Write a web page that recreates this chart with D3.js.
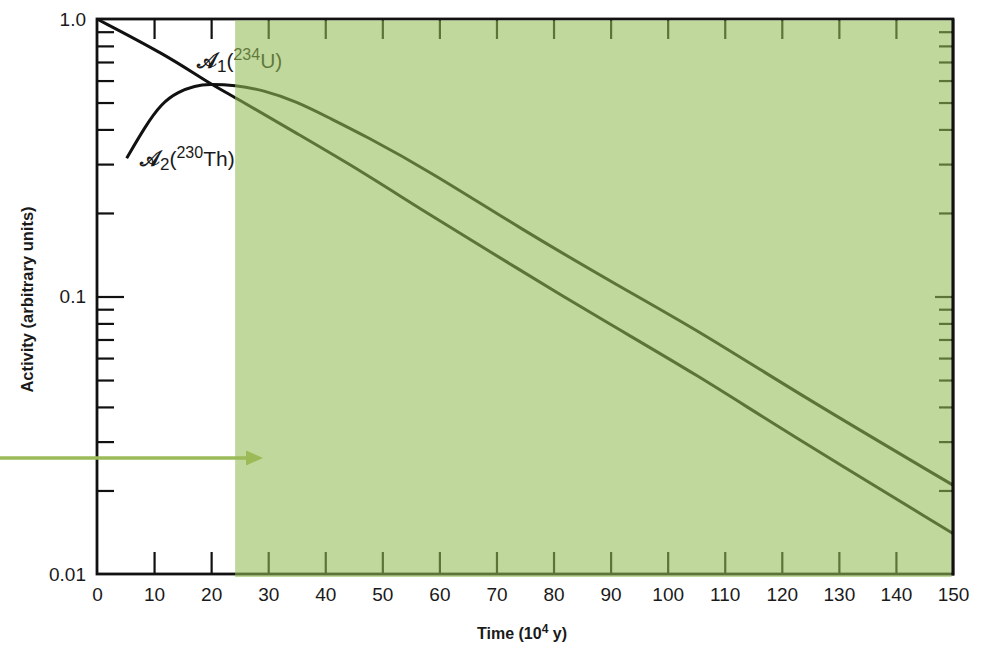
<!DOCTYPE html>
<html>
<head>
<meta charset="utf-8">
<script src="https://cdn.jsdelivr.net/npm/d3@7"></script>
<style>
  html, body { margin: 0; padding: 0; background: #fff; }
  svg { display: block; }
  text { font-family: "Liberation Sans", Arial, sans-serif; fill: #1a1a1a; }
</style>
</head>
<body>
<svg id="chart" width="990" height="645"></svg>
<script>
// ---- data ----
const xTicks = [0, 10, 20, 30, 40, 50, 60, 70, 80, 90, 100, 110, 120, 130, 140, 150];
const yTicks = [0.01, 0.02, 0.03, 0.04, 0.05, 0.06, 0.07, 0.08, 0.09,
                0.1, 0.2, 0.3, 0.4, 0.5, 0.6, 0.7, 0.8, 0.9, 1.0];
const yLabels = { 0.01: "0.01", 0.1: "0.1", 1.0: "1.0" };

// A1 (234U) activity
const a1Time  = [0, 12.2, 19.2, 24.2, 35.0, 46.7, 56.6, 74.1, 88.1, 105.7, 119.7, 150];
const a1Value = [1.0, 0.74, 0.594, 0.522, 0.387, 0.280, 0.207, 0.1246, 0.0834, 0.0514, 0.0335, 0.0140];

// A2 (230Th) activity
const a2Time  = [5.2, 8.4, 11.3, 14.25, 17.2, 19.5, 24.2, 29.1, 35.0, 40.8, 46.7, 58.4, 74.1, 91.6, 105.7, 123.2, 150];
const a2Value = [0.315, 0.409, 0.497, 0.547, 0.574, 0.583, 0.577, 0.555, 0.504, 0.439, 0.382, 0.282, 0.176, 0.1085, 0.0747, 0.0442, 0.0209];

const shadeFrom = [24.2];      // start of highlighted region (time)
const arrowLevel = [0.0262];   // activity level of the arrow annotation

// ---- layout ----
const svg = d3.select("#chart");
const L = 97, R = 953, T = 19, B = 574;
const x = d3.scaleLinear().domain([0, 150]).range([L, R]);
const y = d3.scaleLog().domain([0.01, 1]).range([B, T]);

// axes (ticks inward)
const gBottom = svg.append("g").attr("transform", `translate(0,${B})`)
  .call(d3.axisBottom(x).tickValues(xTicks).tickSize(-22).tickPadding(14).tickFormat(d3.format("d")));
const gTop = svg.append("g").attr("transform", `translate(0,${T})`)
  .call(d3.axisTop(x).tickValues(xTicks.filter(d => d > 0 && d < 150)).tickSize(-20).tickFormat(""));
const gLeft = svg.append("g").attr("transform", `translate(${L},0)`)
  .call(d3.axisLeft(y).tickValues(yTicks).tickSize(-17).tickPadding(11)
        .tickFormat(d => yLabels[d] || ""));
const gRight = svg.append("g").attr("transform", `translate(${R},0)`)
  .call(d3.axisRight(y).tickValues(yTicks.filter(d => d > 0.01 && d < 1)).tickSize(-14).tickFormat(""));

[gBottom, gTop, gLeft, gRight].forEach(g => {
  g.select(".domain").remove();
  g.selectAll(".tick line").attr("stroke", "#111").attr("stroke-width", 2.2);
  g.selectAll("text").attr("font-size", 19).attr("fill", "#1a1a1a").style("font-family", "'Liberation Sans', Arial, sans-serif");
});
gBottom.selectAll(".tick line").filter(d => d === 0 || d === 150).remove();
gLeft.selectAll(".tick line").filter(d => d === 0.1).attr("x2", 27);
gLeft.selectAll(".tick line").filter(d => d === 1 || d === 0.01).remove();
gRight.selectAll(".tick line").filter(d => d === 0.1).attr("x2", -18);

// frame
svg.append("rect").attr("x", L).attr("y", T).attr("width", R - L).attr("height", B - T)
  .attr("fill", "none").attr("stroke", "#111").attr("stroke-width", 2.8);

// curves
const line = d3.line().x(d => x(d[0])).y(d => y(d[1])).curve(d3.curveBasis);
const a1 = a1Time.map((t, i) => [t, a1Value[i]]);
const a2 = a2Time.map((t, i) => [t, a2Value[i]]);
svg.append("path").datum(a1).attr("d", line).attr("fill", "none").attr("stroke", "#111").attr("stroke-width", 3);
svg.append("path").datum(a2).attr("d", line).attr("fill", "none").attr("stroke", "#111").attr("stroke-width", 3);

// curve labels
const lab1 = svg.append("text").attr("x", 197).attr("y", 68).attr("font-size", 21);
lab1.append("tspan").text("𝒜").attr("font-weight", "bold");
lab1.append("tspan").text("1").attr("dy", 4).attr("font-size", 17);
lab1.append("tspan").text("(").attr("dy", -4);
lab1.append("tspan").text("234").attr("dy", -8).attr("font-size", 16);
lab1.append("tspan").text("U)").attr("dy", 8);

const lab2 = svg.append("text").attr("x", 140).attr("y", 166).attr("font-size", 21);
lab2.append("tspan").text("𝒜").attr("font-weight", "bold");
lab2.append("tspan").text("2").attr("dy", 4).attr("font-size", 17);
lab2.append("tspan").text("(").attr("dy", -4);
lab2.append("tspan").text("230").attr("dy", -8).attr("font-size", 16);
lab2.append("tspan").text("Th)").attr("dy", 8);

// axis titles
const xt = svg.append("text").attr("x", 522).attr("y", 639).attr("text-anchor", "middle")
  .attr("font-size", 16).attr("font-weight", "bold");
xt.append("tspan").text("Time (10");
xt.append("tspan").text("4").attr("dy", -6).attr("font-size", 12);
xt.append("tspan").text(" y)").attr("dy", 6);

svg.append("text").attr("transform", `translate(33,${(T + B) / 2 + 3}) rotate(-90)`)
  .attr("text-anchor", "middle").attr("font-size", 16.5).attr("font-weight", "bold")
  .text("Activity (arbitrary units)");

// green highlight overlay
svg.append("rect").attr("x", x(shadeFrom[0])).attr("y", T + 1.5)
  .attr("width", R - 1.5 - x(shadeFrom[0])).attr("height", B - T + 1.5)
  .attr("fill", "rgb(148,188,85)").attr("fill-opacity", 0.58);
// right frame edge on top
svg.append("line").attr("x1", R).attr("x2", R).attr("y1", T).attr("y2", B + 1.4)
  .attr("stroke", "#111").attr("stroke-width", 2.8);

// arrow annotation
const ay = y(arrowLevel[0]);
svg.append("line").attr("x1", 0).attr("x2", 249).attr("y1", ay).attr("y2", ay)
  .attr("stroke", "#9bbb59").attr("stroke-width", 3.5);
svg.append("path")
  .attr("d", d3.line()([[246, ay - 7.5], [263, ay], [246, ay + 7.5]]) + "Z")
  .attr("fill", "#9bbb59");
</script>
</body>
</html>
